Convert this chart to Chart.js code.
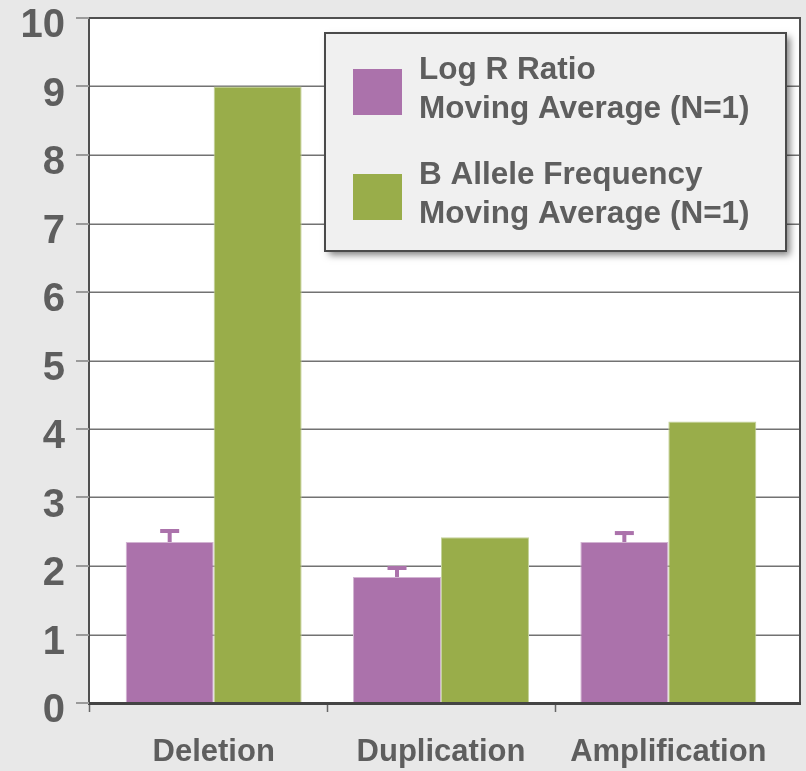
<!DOCTYPE html>
<html>
<head>
<meta charset="utf-8">
<script src="https://cdn.jsdelivr.net/npm/chart.js@4.4.1/dist/chart.umd.min.js"></script>
<style>
  html, body { margin: 0; padding: 0; background: #e8e8e8; }
  #wrap { position: relative; width: 806px; height: 771px; }
  canvas { display: block; }
</style>
</head>
<body>
<div id="wrap"><canvas id="c" width="806" height="771"></canvas></div>
<script>
// Categories and series values
const categories = ['Deletion', 'Duplication', 'Amplification'];
const logRRatio = [2.35, 1.84, 2.35];
const logRRatioErr = [0.19, 0.16, 0.16];
const bAlleleFreq = [9.0, 2.42, 4.11];
const seriesLabels = [
  ['Log R Ratio', 'Moving Average (N=1)'],
  ['B Allele Frequency', 'Moving Average (N=1)']
];
const yMin = 0, yMax = 10, yStep = 1;

const PURPLE = '#ab72ab';
const GREEN = '#99ad4a';
const TEXT = '#5e5e5e';
const FONT = '"Liberation Sans", Arial, Helvetica, sans-serif';

// Outer frame of the plot (the category band sits slightly inside it)
const frame = { left: 89, right: 800 };

function line(ctx, x1, y1, x2, y2) {
  ctx.beginPath();
  ctx.moveTo(x1, y1);
  ctx.lineTo(x2, y2);
  ctx.stroke();
}

const plotFrame = {
  id: 'plotFrame',
  beforeDatasetsDraw(chart) {
    const { ctx, chartArea: a, scales: { y } } = chart;
    ctx.save();
    ctx.fillStyle = '#ffffff';
    ctx.fillRect(frame.left, a.top, frame.right - frame.left, a.bottom - a.top);
    ctx.strokeStyle = '#727272';
    ctx.lineWidth = 1.5;
    y.ticks.forEach(t => {
      if (t.value === yMin || t.value === yMax) return;
      const py = Math.round(y.getPixelForValue(t.value)) + 0.25;
      line(ctx, frame.left, py, frame.right, py);
    });
    ctx.restore();
  },
  afterDatasetsDraw(chart) {
    const { ctx, chartArea: a, scales: { x, y } } = chart;
    ctx.save();
    // error bars on the Log R Ratio series
    const meta = chart.getDatasetMeta(0);
    ctx.fillStyle = PURPLE;
    meta.data.forEach((bar, i) => {
      const capTop = y.getPixelForValue(logRRatio[i] + logRRatioErr[i]);
      ctx.fillRect(bar.x - 2, capTop, 4, bar.y - capTop);
      ctx.fillRect(bar.x - 9.5, capTop, 19, 4);
    });
    // frame lines
    ctx.strokeStyle = '#505050';
    ctx.lineWidth = 2;
    line(ctx, frame.left, a.top, frame.right, a.top);
    line(ctx, frame.left, a.top - 1, frame.left, a.bottom);
    line(ctx, frame.right, a.top - 1, frame.right, a.bottom);
    ctx.strokeStyle = '#444444';
    ctx.lineWidth = 3;
    line(ctx, frame.left - 1, a.bottom + 0.5, frame.right + 1, a.bottom + 0.5);
    // y tick marks
    ctx.strokeStyle = '#9a9a9a';
    ctx.lineWidth = 2;
    y.ticks.forEach(t => {
      const py = Math.round(y.getPixelForValue(t.value));
      line(ctx, frame.left - 13, py, frame.left, py);
    });
    // x tick marks at category boundaries
    ctx.strokeStyle = '#666666';
    ctx.lineWidth = 1.5;
    const bounds = [frame.left];
    for (let i = 1; i < categories.length; i++) {
      bounds.push((x.getPixelForValue(i - 1) + x.getPixelForValue(i)) / 2);
    }
    bounds.forEach(bx => line(ctx, Math.round(bx) + 0.5, a.bottom + 2, Math.round(bx) + 0.5, a.bottom + 9));
    ctx.restore();
  },
  afterDraw(chart) {
    const { ctx } = chart;
    const box = { x: 325, y: 33, w: 461, h: 218 };
    ctx.save();
    ctx.shadowColor = 'rgba(0,0,0,0.5)';
    ctx.shadowBlur = 7;
    ctx.shadowOffsetX = 4;
    ctx.shadowOffsetY = 4;
    ctx.fillStyle = '#f0f0f0';
    ctx.fillRect(box.x, box.y, box.w, box.h);
    ctx.shadowColor = 'transparent';
    ctx.strokeStyle = '#4a4a4a';
    ctx.lineWidth = 2;
    ctx.strokeRect(box.x, box.y, box.w, box.h);
    const colors = [PURPLE, GREEN];
    const swatchTops = [69, 174];
    const baselines = [[79, 118], [184, 223]];
    ctx.font = 'bold 31.5px ' + FONT;
    ctx.textAlign = 'left';
    ctx.textBaseline = 'alphabetic';
    seriesLabels.forEach((lines, k) => {
      ctx.fillStyle = colors[k];
      ctx.fillRect(353, swatchTops[k], 49, 46);
      ctx.fillStyle = TEXT;
      lines.forEach((txt, j) => ctx.fillText(txt, 419, baselines[k][j]));
    });
    ctx.restore();
  }
};

new Chart(document.getElementById('c'), {
  type: 'bar',
  data: {
    labels: categories,
    datasets: [
      {
        label: seriesLabels[0].join(' '),
        data: logRRatio,
        backgroundColor: PURPLE,
        borderColor: '#d2b4d2',
        borderWidth: 1,
        categoryPercentage: 0.774,
        barPercentage: 1.0
      },
      {
        label: seriesLabels[1].join(' '),
        data: bAlleleFreq,
        backgroundColor: GREEN,
        borderColor: '#c4d29a',
        borderWidth: 1,
        categoryPercentage: 0.774,
        barPercentage: 1.0
      }
    ]
  },
  options: {
    responsive: false,
    animation: false,
    devicePixelRatio: 1,
    layout: { padding: { top: 18, right: 24, bottom: 0, left: 0 } },
    plugins: {
      legend: { display: false },
      tooltip: { enabled: false }
    },
    scales: {
      x: {
        grid: { display: false, drawTicks: false },
        border: { display: false },
        ticks: {
          color: TEXT,
          font: { family: FONT, size: 31, weight: 'bold' },
          padding: 31,
          maxRotation: 0,
          autoSkip: false
        },
        afterFit(scale) {
          scale.height = 68;
          scale.paddingLeft = 0;
          scale.paddingRight = 0;
        }
      },
      y: {
        min: yMin,
        max: yMax,
        grid: { display: false, drawTicks: false },
        border: { display: false },
        ticks: {
          stepSize: yStep,
          color: TEXT,
          font: { family: FONT, size: 40, weight: 'bold' },
          padding: 35,
          labelOffset: 8
        },
        afterFit(scale) {
          scale.width = 100;
          scale.paddingTop = 0;
          scale.paddingBottom = 0;
        }
      }
    }
  },
  plugins: [plotFrame]
});
</script>
</body>
</html>
